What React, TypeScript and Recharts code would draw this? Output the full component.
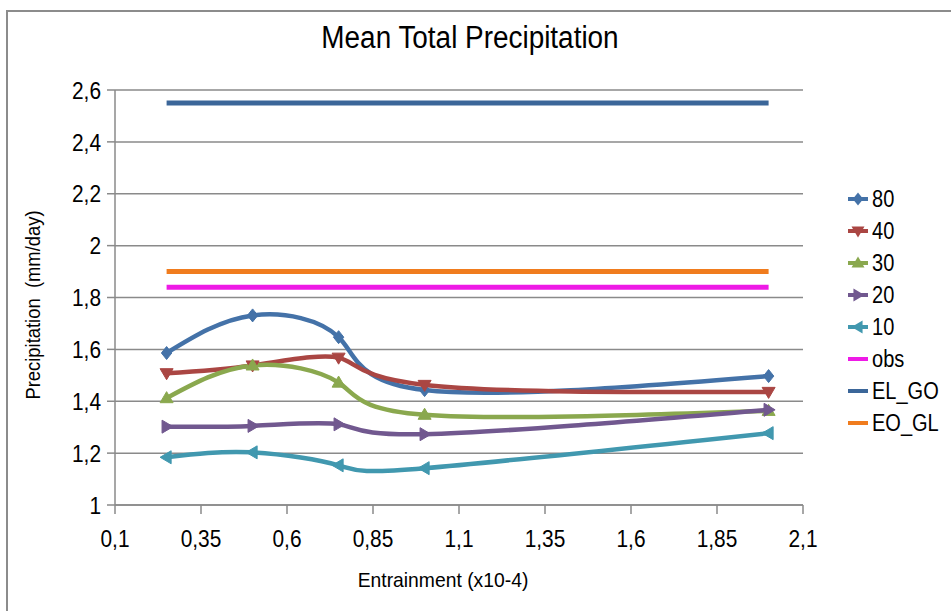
import React from 'react'
import { LineChart, Line, XAxis, YAxis, CartesianGrid } from 'recharts'

const entrainment = [0.25, 0.5, 0.75, 1.0, 2.0]
const s80 = [1.586, 1.731, 1.647, 1.443, 1.497]
const s40 = [1.508, 1.538, 1.568, 1.463, 1.436]
const s30 = [1.412, 1.538, 1.472, 1.348, 1.363]
const s20 = [1.302, 1.305, 1.311, 1.273, 1.367]
const s10 = [1.184, 1.203, 1.153, 1.142, 1.277]
const obs = [1.84, 1.84, 1.84, 1.84, 1.84]
const elGo = [2.55, 2.55, 2.55, 2.55, 2.55]
const eoGl = [1.9, 1.9, 1.9, 1.9, 1.9]

const xTicks = [0.1, 0.35, 0.6, 0.85, 1.1, 1.35, 1.6, 1.85, 2.1]
const yTicks = [1, 1.2, 1.4, 1.6, 1.8, 2, 2.2, 2.4, 2.6]

const data = entrainment.map((x, i) => ({
  x,
  s80: s80[i],
  s40: s40[i],
  s30: s30[i],
  s20: s20[i],
  s10: s10[i],
  obs: obs[i],
  elGo: elGo[i],
  eoGl: eoGl[i],
}))

type Marker = 'diamond' | 'down' | 'up' | 'right' | 'left' | 'none'

const series: { key: string; name: string; color: string; marker: Marker }[] = [
  { key: 's80', name: '80', color: '#4472a8', marker: 'diamond' },
  { key: 's40', name: '40', color: '#aa4643', marker: 'down' },
  { key: 's30', name: '30', color: '#8aa84e', marker: 'up' },
  { key: 's20', name: '20', color: '#71588f', marker: 'right' },
  { key: 's10', name: '10', color: '#4198af', marker: 'left' },
  { key: 'obs', name: 'obs', color: '#ee1ae6', marker: 'none' },
  { key: 'elGo', name: 'EL_GO', color: '#3b6699', marker: 'none' },
  { key: 'eoGl', name: 'EO_GL', color: '#f07c1e', marker: 'none' },
]

const FONT = '"Liberation Sans", Arial, sans-serif'
const GRID = '#8a8a8a'
// the reference text is a condensed face; squeeze the regular one to match
const SQUEEZE = 0.87

function markerPath(m: Marker, cx: number, cy: number) {
  const r = 6.5
  switch (m) {
    case 'diamond':
      return `M${cx},${cy - r}L${cx + r * 0.8},${cy}L${cx},${cy + r}L${cx - r * 0.8},${cy}Z`
    case 'down':
      return `M${cx - r},${cy - r * 0.7}L${cx + r},${cy - r * 0.7}L${cx},${cy + r}Z`
    case 'up':
      return `M${cx - r},${cy + r * 0.7}L${cx + r},${cy + r * 0.7}L${cx},${cy - r}Z`
    case 'right':
      return `M${cx - r * 0.7},${cy - r}L${cx - r * 0.7},${cy + r}L${cx + r},${cy}Z`
    case 'left':
      return `M${cx + r * 0.7},${cy - r}L${cx + r * 0.7},${cy + r}L${cx - r},${cy}Z`
    default:
      return ''
  }
}

function makeDot(m: Marker, color: string) {
  return (props: any) => {
    const { cx, cy, index } = props
    if (m === 'none' || cx == null || cy == null) return <g key={`d-${index}`} />
    return <path key={`d-${index}`} d={markerPath(m, cx, cy)} fill={color} stroke={color} strokeWidth={1} />
  }
}

const fmt = (v: number) => String(v).replace('.', ',')

function XTick(props: any) {
  const { x, y, payload } = props
  return (
    <g transform={`translate(${x},${y})`}>
      <text transform={`scale(${SQUEEZE},1)`} textAnchor="middle" dy="0.72em" fontSize={24} fontFamily={FONT} fill="#000">
        {fmt(payload.value)}
      </text>
    </g>
  )
}

function YTick(props: any) {
  const { x, y, payload } = props
  return (
    <g transform={`translate(${x},${y})`}>
      <text transform={`scale(${SQUEEZE},1)`} textAnchor="end" dy="0.36em" fontSize={24} fontFamily={FONT} fill="#000">
        {fmt(payload.value)}
      </text>
    </g>
  )
}

function LegendBox() {
  return (
    <div style={{ fontFamily: FONT, fontSize: 23, color: '#000' }}>
      {series.map((s) => (
        <div key={s.key} style={{ display: 'flex', alignItems: 'center', height: 32 }}>
          <svg width={24} height={20} style={{ marginRight: 2 }}>
            <line x1={2} y1={10} x2={22} y2={10} stroke={s.color} strokeWidth={4} />
            {s.marker !== 'none' && <path d={markerPath(s.marker, 12, 10)} fill={s.color} />}
          </svg>
          <span style={{ display: 'inline-block', transform: `scaleX(${SQUEEZE})`, transformOrigin: 'left center' }}>
            {s.name}
          </span>
        </div>
      ))}
    </div>
  )
}

export default function App() {
  return (
    <div style={{ position: 'absolute', left: 0, top: 0, width: 951, height: 611, background: '#fff', overflow: 'hidden' }}>
      <div
        style={{
          position: 'absolute',
          left: 6,
          top: 10,
          width: 980,
          height: 640,
          border: '2px solid #8c8c8c',
          boxSizing: 'border-box',
        }}
      />
      <div
        style={{
          position: 'absolute',
          left: 470,
          top: 38,
          transform: 'translate(-50%, -50%) scaleX(0.9)',
          fontFamily: FONT,
          fontSize: 31,
          whiteSpace: 'pre',
          color: '#000',
        }}
      >
        Mean Total Precipitation
      </div>
      <div
        style={{
          position: 'absolute',
          left: 33,
          top: 305,
          transform: 'translate(-50%, -50%) rotate(-90deg) scaleX(0.92)',
          fontFamily: FONT,
          fontSize: 20,
          whiteSpace: 'pre',
          color: '#000',
        }}
      >
        {'Precipitation  (mm/day)'}
      </div>
      <div
        style={{
          position: 'absolute',
          left: 443,
          top: 580,
          transform: 'translate(-50%, -50%) scaleX(0.92)',
          fontFamily: FONT,
          fontSize: 21,
          whiteSpace: 'pre',
          color: '#000',
        }}
      >
        Entrainment (x10-4)
      </div>
      <div style={{ position: 'absolute', left: 0, top: 0 }}>
        <LineChart width={951} height={611} data={data} margin={{ top: 90, right: 148, bottom: 66, left: 0 }}>
          <CartesianGrid vertical={false} stroke={GRID} strokeWidth={1.5} />
          <XAxis
            dataKey="x"
            type="number"
            domain={[0.1, 2.1]}
            ticks={xTicks}
            height={40}
            stroke={GRID}
            strokeWidth={1.5}
            tickSize={9}
            tickMargin={16}
            tick={<XTick />}
            allowDataOverflow
          />
          <YAxis
            type="number"
            domain={[1, 2.6]}
            ticks={yTicks}
            width={115}
            stroke={GRID}
            strokeWidth={1.5}
            tickSize={8}
            tickMargin={6}
            tick={<YTick />}
            allowDataOverflow
          />
          {series.map((s) => (
            <Line
              key={s.key}
              dataKey={s.key}
              name={s.name}
              type={s.marker === 'none' ? 'linear' : 'natural'}
              stroke={s.color}
              strokeWidth={s.marker === 'none' ? 5 : 4.5}
              dot={makeDot(s.marker, s.color)}
              activeDot={false}
              isAnimationActive={false}
            />
          ))}
        </LineChart>
      </div>
      <div style={{ position: 'absolute', left: 846, top: 183 }}>
        <LegendBox />
      </div>
    </div>
  )
}
